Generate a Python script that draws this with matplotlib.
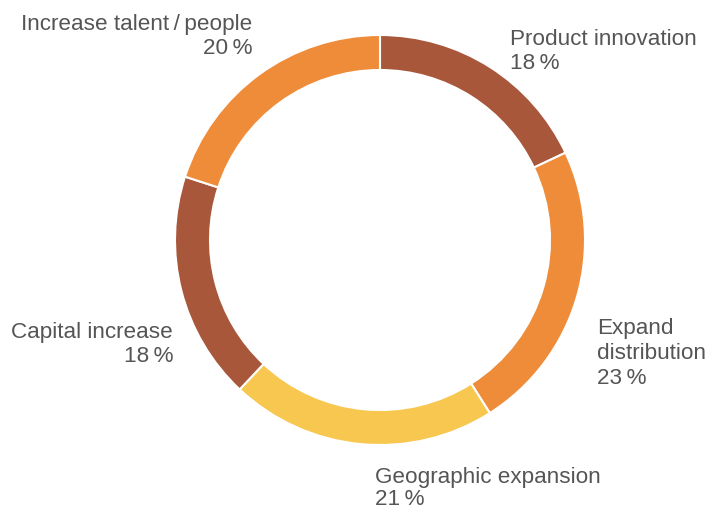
import matplotlib.pyplot as plt

# shares, clockwise from 12 o'clock
labels = ['Product innovation', 'Expand\ndistribution', 'Geographic expansion',
          'Capital increase', 'Increase talent\u2009/\u2009people']
values = [18, 23, 21, 18, 20]
colors = ['#A8573A', '#EF8C3A', '#F7C74F', '#A8573A', '#EF8C3A']

plt.rcParams['font.family'] = ['Liberation Sans', 'DejaVu Sans']

W, H = 713, 510
fig = plt.figure(figsize=(W / 100, H / 100), dpi=100)
ax = fig.add_axes([0, 0, 1, 1])

ax.pie(values, colors=colors, startangle=90, counterclock=False,
       center=(380, H - 241), radius=205, frame=True,
       wedgeprops=dict(width=35, edgecolor='white', linewidth=1.5))
ax.set_xlim(0, W)
ax.set_ylim(0, H)
ax.set_aspect('equal')
ax.axis('off')

# first-line baseline in pixels from top-left (x, y, alignment, line step)
label_pos = [(510, 45, 'left', 24), (597, 334, 'left', 25),
             (375, 483, 'left', 22), (173, 338, 'right', 24),
             (252, 30, 'right', 24)]
for lab, v, (x, y, ha, step) in zip(labels, values, label_pos):
    lines = lab.split('\n') + [f'{v}\u2009%']
    for i, line in enumerate(lines):
        ax.text(x, H - (y + i * step), line, ha=ha, va='baseline',
                fontsize=16.2, color='#555555')

fig.savefig('out.png', dpi=100)
